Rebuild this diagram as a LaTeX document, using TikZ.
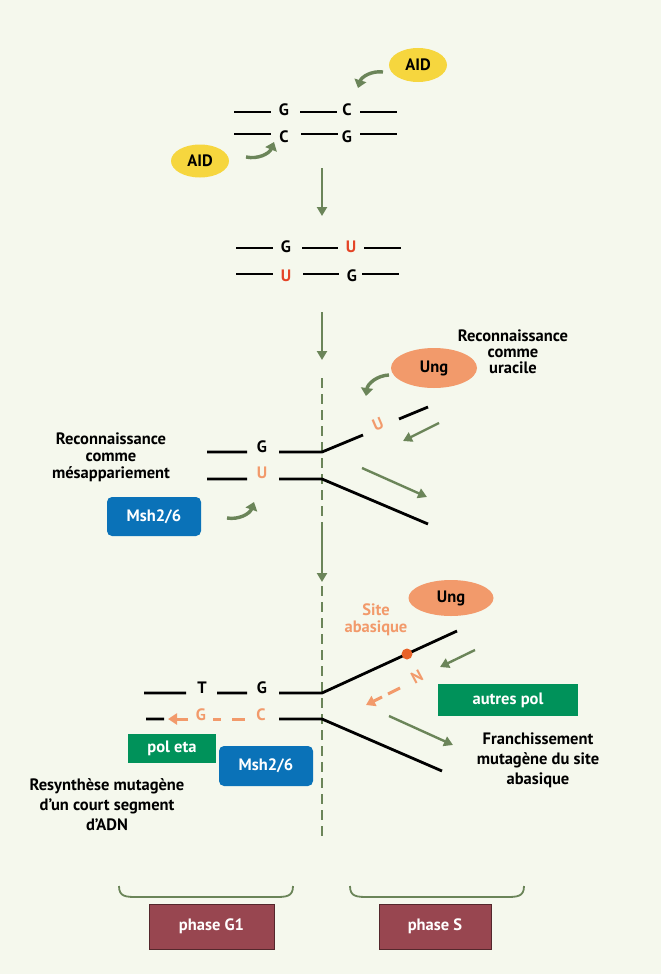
\documentclass[tikz,border=0pt]{standalone}
\usepackage{fontspec}
\setmainfont{PT Sans}
\usetikzlibrary{arrows.meta,shapes.geometric}

\definecolor{fond}{RGB}{245,248,237}
\definecolor{vertfl}{RGB}{107,133,89}
\definecolor{jaune}{RGB}{246,214,62}
\definecolor{saumon}{RGB}{242,154,107}
\definecolor{rouge}{RGB}{228,68,38}
\definecolor{pointabs}{RGB}{232,98,40}
\definecolor{bleu}{RGB}{10,114,184}
\definecolor{vertpol}{RGB}{0,146,90}
\definecolor{bordeaux}{RGB}{152,70,80}

\begin{document}
\begin{tikzpicture}[x=1pt,y=-1pt,
  txt/.style={font=\bfseries\fontsize{16.5}{17}\selectfont, inner sep=0pt},
  brin/.style={line width=2.8pt},
  fl/.style={draw=vertfl, line width=2.4pt, -{Triangle[length=9pt,width=10pt]}},
  flc/.style={draw=vertfl, line width=3.4pt, -{Triangle[length=8pt,width=12pt]}},
  enz/.style={ellipse, txt, inner sep=0pt},
  boite/.style={txt, text=white},
  orng/.style={draw=saumon, line width=3pt}]
\useasboundingbox (0,0) rectangle (661,974);
\fill[fond] (0,0) rectangle (661,974);

% etape 1
\def\ya{112}; % brin haut
\def\yb{134}; % brin bas
\draw[brin] (234,\ya) -- (271,\ya) (300,\ya) -- (337,\ya) (360,\ya) -- (397,\ya);
\draw[brin] (234,\yb) -- (271,\yb) (301,\yb) -- (338,\yb) (360,\yb) -- (397,\yb);
\node[txt] (g1a) at (284,110) {G};
\node[txt] (c1a) at (347,110) {C};
\node[txt] (c1b) at (284,137) {C};
\node[txt] (g1b) at (347,137) {G};

\node[enz, fill=jaune, minimum width=58pt, minimum height=34pt] (aidh) at (418,65) {AID};
\node[enz, fill=jaune, minimum width=58pt, minimum height=33pt] (aidb) at (200,161) {AID};
\coordinate (a1s) at (383,72);
\coordinate (a1e) at (358,88);
\coordinate (a2s) at (246,157);
\coordinate (a2e) at (274,142);
\draw[flc] (a1s) to[bend right=40] (a1e);
\draw[flc] (a2s) to[bend right=40] (a2e);

\coordinate (v1s) at (322,168);
\coordinate (v1e) at (322,216);
\draw[fl] (v1s) -- (v1e);

% etape 2
\def\yc{248};
\def\yd{274};
\draw[brin] (236,\yc) -- (273,\yc) (302,\yc) -- (338,\yc) (364,\yc) -- (401,\yc);
\draw[brin] (236,\yd) -- (273,\yd) (303,\yd) -- (339,\yd) (362,\yd) -- (399,\yd);
\node[txt] (g2a) at (286,247) {G};
\node[txt, text=rouge] (u2a) at (351,247) {U};
\node[txt, text=rouge] (u2b) at (286,276) {U};
\node[txt] (g2b) at (352,276) {G};

\coordinate (v2s) at (322,312);
\coordinate (v2e) at (322,360);
\draw[fl] (v2s) -- (v2e);

% axe en pointilles
\coordinate (axh) at (322,378);
\coordinate (axb) at (322,842);
\draw[vertfl, line width=2.8pt, dash pattern=on 10pt off 6pt] (axh) -- (axb);
\coordinate (v3s) at (322,531);
\coordinate (v3e) at (322,582);
\draw[fl] (v3s) -- (v3e);

% etape 3
\def\ye{452};
\def\yf{479};
\draw[brin] (207,\ye) -- (247,\ye) (279,\ye) -- (322,\ye) -- (363,435) (399,419) -- (428,407);
\draw[brin] (207,\yf) -- (247,\yf) (279,\yf) -- (322,\yf) -- (428,524);
\node[txt] (g3) at (262,447) {G};
\node[txt, text=saumon] (u3) at (262,473) {U};
\node[txt, text=saumon, rotate=23] (u3r) at (378,424) {U};

\node[enz, fill=saumon, minimum width=86pt, minimum height=40pt] (ung1) at (434,368) {Ung};
\node[txt, align=center, font=\bfseries\fontsize{16.5}{16}\selectfont] (recu) at (513,352) {Reconnaissance\\comme\\uracile};
\node[txt, align=center, font=\bfseries\fontsize{16.5}{17}\selectfont] (recm) at (111,457) {Reconnaissance\\comme\\mésappariement};
\node[boite, fill=bleu, rounded corners=5pt, minimum width=94pt, minimum height=39pt] (msh1) at (154,516.5) {Msh2/6};

\coordinate (b1s) at (389,375);
\coordinate (b1e) at (366,396);
\draw[flc] (b1s) to[bend right=40] (b1e);
\coordinate (b2s) at (227,518);
\coordinate (b2e) at (254,502);
\draw[flc] (b2s) to[bend right=40] (b2e);
\coordinate (f1s) at (439,423);
\coordinate (f1e) at (403,441);
\draw[fl] (f1s) -- (f1e);
\coordinate (f2s) at (362,468);
\coordinate (f2e) at (427,497);
\draw[fl] (f2s) -- (f2e);

% etape 4
\def\yg{693};
\def\yh{719};
\draw[brin] (144,\yg) -- (186,\yg) (217,\yg) -- (247,\yg) (279,\yg) -- (322,\yg) -- (457,631);
\draw[brin] (146,\yh) -- (164,\yh) (279,\yh) -- (322,\yh) -- (442,771);
\node[txt] (t4) at (202,688) {T};
\node[txt] (g4) at (262,688) {G};
\node[txt, text=saumon] (g4b) at (201,715) {G};
\node[txt, text=saumon] (c4b) at (261,715) {C};
\draw[orng] (213,\yh) -- (221,\yh) (232,\yh) -- (245,\yh);
\coordinate (o1s) at (188,\yh);
\coordinate (o1e) at (168,\yh);
\draw[orng, -{Triangle[length=9pt,width=11pt]}] (o1s) -- (o1e);

\node[txt, text=saumon, align=center] (site) at (376,620) {Site\\abasique};
\fill[pointabs] (407,654) circle (5.5);
\node[enz, fill=saumon, minimum width=85pt, minimum height=36pt] (ung2) at (451,598) {Ung};
\node[txt, text=saumon, rotate=28] (n4) at (417,677) {N};
\draw[orng] (400,688) -- (388,694);
\coordinate (o2s) at (382,697);
\coordinate (o2e) at (366,705);
\draw[orng, -{Triangle[length=9pt,width=11pt]}] (o2s) -- (o2e);

\coordinate (f3s) at (475,650);
\coordinate (f3e) at (440,667);
\draw[fl] (f3s) -- (f3e);
\node[boite, fill=vertpol, minimum width=140pt, minimum height=32pt] (autres) at (508,700) {autres pol};
\coordinate (f4s) at (389,716);
\coordinate (f4e) at (453,745);
\draw[fl] (f4s) -- (f4e);
\node[txt, align=center, font=\bfseries\fontsize{16.5}{20}\selectfont] (franch) at (538,760) {Franchissement\\mutagène du site\\abasique};

\node[boite, fill=vertpol, minimum width=88pt, minimum height=29pt] (poleta) at (172,748.5) {pol eta};
\node[boite, fill=bleu, rounded corners=5pt, minimum width=94pt, minimum height=40pt] (msh2) at (266,766) {Msh2/6};
\node[txt, align=center, font=\bfseries\fontsize{16.5}{20}\selectfont] (resyn) at (107,805) {Resynthèse mutagène\\d’un court segment\\d’ADN};

% phases
\draw[vertfl, line width=1.8pt] (119,886) .. controls (119,897) and (126,897) .. (138,897) -- (274,897) .. controls (286,897) and (293,897) .. (293,886);
\draw[vertfl, line width=1.8pt] (350,886) .. controls (350,897) and (357,897) .. (369,897) -- (505,897) .. controls (517,897) and (524,897) .. (524,886);
\node[boite, fill=bordeaux, draw=bordeaux!55!black, line width=0.6pt, minimum width=125pt, minimum height=45pt] (phg1) at (211.5,926.5) {phase G1};
\node[boite, fill=bordeaux, draw=bordeaux!55!black, line width=0.6pt, minimum width=112pt, minimum height=45pt] (phs) at (435,926.5) {phase S};

\end{tikzpicture}
\end{document}
